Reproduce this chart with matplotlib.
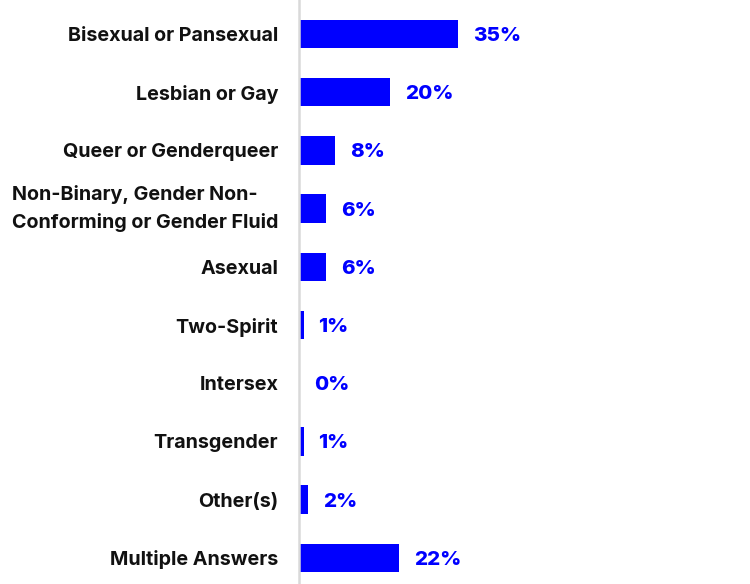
import matplotlib.pyplot as plt

plt.rcParams['font.family'] = ['Inter', 'DejaVu Sans']

categories = ["Bisexual or Pansexual", "Lesbian or Gay", "Queer or Genderqueer",
              "Non-Binary, Gender Non-\nConforming or Gender Fluid", "Asexual",
              "Two-Spirit", "Intersex", "Transgender", "Other(s)", "Multiple Answers"]
values = [35, 20, 8, 6, 6, 1, 0, 1, 2, 22]
value_labels = ["35%", "20%", "8%", "6%", "6%", "1%", "0%", "1%", "2%", "22%"]

blue = "#0000FF"

fig = plt.figure(figsize=(7.5, 5.84), dpi=100)
ax = fig.add_axes([299 / 750, 0, 1 - 299 / 750, 1])

y = list(range(len(categories)))
ax.barh(y, values, height=0.49, color=blue)

# percentage labels just past the end of each bar
for yi, v, lab in zip(y, values, value_labels):
    ax.text(v + 3.3, yi, lab, va='center_baseline', ha='left', color=blue,
            fontsize=14.8, fontweight='heavy')

ax.set_xlim(0, 99.3)
ax.set_ylim(9.45, -0.584)
ax.set_yticks(y)
ax.set_yticklabels(categories, fontsize=14.2, fontweight='bold', color='#111111',
                   linespacing=1.65)
for t in ax.get_yticklabels():
    t.set_multialignment('left')
    if '\n' in t.get_text():
        t.set_verticalalignment('center')
ax.tick_params(axis='y', length=0, pad=15)
ax.set_xticks([])

for s in ['top', 'right', 'bottom']:
    ax.spines[s].set_visible(False)
ax.spines['left'].set_color('#d9d9d9')
ax.spines['left'].set_linewidth(1.8)

fig.savefig("out.png", dpi=100)
